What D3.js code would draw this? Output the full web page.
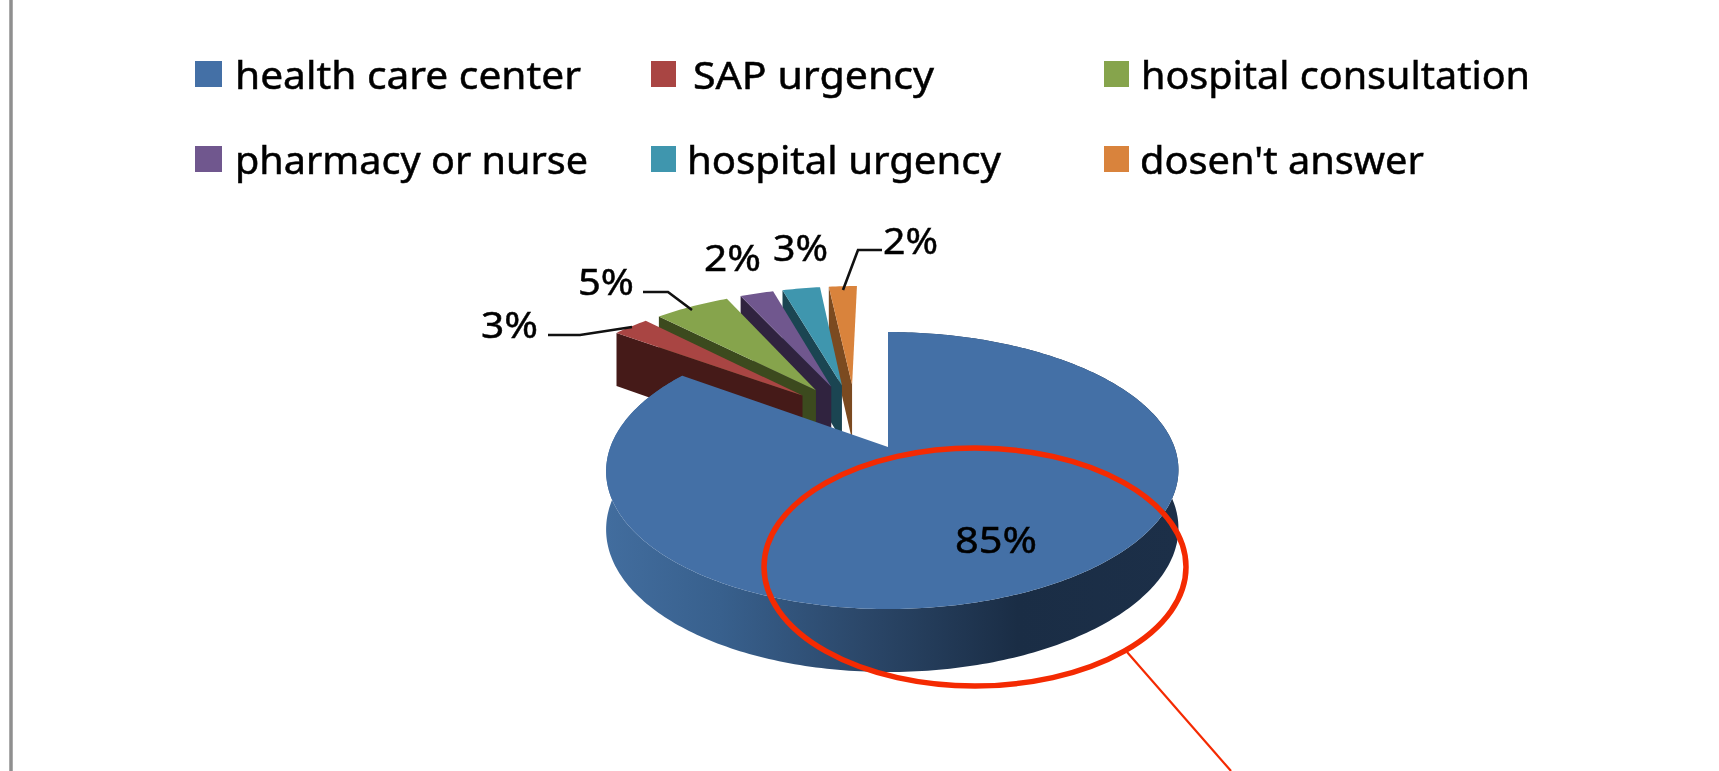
<!DOCTYPE html>
<html>
<head>
<meta charset="utf-8">
<script src="https://cdn.jsdelivr.net/npm/d3@7"></script>
<style>
  html, body { margin: 0; padding: 0; background: #fff; overflow: hidden; }
  svg { display: block; filter: blur(0.7px); }
  text { font-family: "Noto Sans", sans-serif; fill: #000; stroke: #000; stroke-width: 0.5px; }
</style>
</head>
<body>
<div id="chart"></div>
<script>
const categories = ['health care center', 'SAP urgency', 'hospital consultation', 'pharmacy or nurse', 'hospital urgency', "dosen't answer"]
const percents = [84.9, 2.6, 5.4, 2.4, 2.7, 2.0]
const topColors = ['#4470a6', '#a94543', '#86a44c', '#70578e', '#3f96ae', '#d9833c']
const wallColors = ['#27405f', '#451a18', '#3c4a1e', '#30233f', '#1b4552', '#7b4a20']

const width = 1719
const height = 771

let svg = d3.select('#chart').append('svg')
  .attr('width', width)
  .attr('height', height)

// grey frame on the left of the page
svg.append('line')
  .attr('x1', 11).attr('x2', 11)
  .attr('y1', 0).attr('y2', height)
  .attr('stroke', '#8f8f8f')
  .attr('stroke-width', 3.5)

// legend: 3 columns, 2 rows
let legendX = [195, 651, 1104]
let legendTextX = [235, 693, 1141, 235, 687, 1140]
let legendTextW = [346, 241, 389, 353, 314, 284]
let legendY = [61, 146]

let legend = svg.append('g').selectAll('g')
  .data(categories)
  .enter().append('g')

legend.append('rect')
  .attr('x', (d, i) => legendX[i % 3])
  .attr('y', (d, i) => legendY[Math.floor(i / 3)])
  .attr('width', (d, i) => i % 3 === 0 ? 27 : 25)
  .attr('height', 26)
  .attr('fill', (d, i) => topColors[i])

legend.append('text')
  .attr('x', (d, i) => legendTextX[i])
  .attr('y', (d, i) => legendY[Math.floor(i / 3)] + 28)
  .attr('font-size', 38)
  .attr('textLength', (d, i) => legendTextW[i])
  .attr('lengthAdjust', 'spacingAndGlyphs')
  .text(d => d)

// perspective pie. all slices pulled out from a common centre
const apex = [888, 447]   // where the big slice comes to a point
const sx = 282
const sy = 134.5
const persp = 0.17
const depth = 57.4
const explode = 0.266
const lean = 4.4          // the rim sits a little right of the point

let pie = d3.pie().sort(null).startAngle(0).endAngle(2 * Math.PI)
let slices = pie(percents)

function offset(s) {
  let m = (s.startAngle + s.endAngle) / 2
  return [explode * Math.sin(m), -explode * Math.cos(m)]
}

const mainOff = offset(slices[0])

function project(s, r, a, z) {
  let o = offset(s)
  let X = o[0] - mainOff[0] + r * Math.sin(a)
  let Y = o[1] - mainOff[1] - r * Math.cos(a)
  let w = 1 - persp * Y
  let bend = lean * r * Math.sin(a) * Math.sin(a)
  return [apex[0] + sx * X / w + bend, apex[1] + sy * Y / w + depth * z / Math.sqrt(w)]
}

function arcAngles(s) {
  let n = Math.max(6, Math.ceil((s.endAngle - s.startAngle) * 60))
  return d3.range(n + 1).map(k => s.startAngle + (s.endAngle - s.startAngle) * k / n)
}

let line = d3.line()

function topPath(s) {
  let pts = [project(s, 0, 0, 0)].concat(arcAngles(s).map(a => project(s, 1, a, 0)))
  return line(pts) + 'Z'
}

function outerWall(s) {
  let angles = arcAngles(s)
  let pts = angles.map(a => project(s, 1, a, 0))
    .concat(angles.slice().reverse().map(a => project(s, 1, a, 1)))
  return line(pts) + 'Z'
}

function startWall(s) {
  let a = s.startAngle
  return line([project(s, 0, a, 0), project(s, 1, a, 0), project(s, 1, a, 1), project(s, 0, a, 1)]) + 'Z'
}

let grad = svg.append('defs').append('linearGradient')
  .attr('id', 'mainWall')
  .attr('gradientUnits', 'userSpaceOnUse')
  .attr('x1', 606).attr('x2', 1178)
  .attr('y1', 0).attr('y2', 0)

grad.selectAll('stop')
  .data([[0, '#426d9e'], [0.2, '#38608d'], [0.45, '#2b4769'], [0.72, '#1a2d45'], [1, '#1c2f48']])
  .enter().append('stop')
  .attr('offset', d => d[0])
  .attr('stop-color', d => d[1])

// orange is painted first, red over it, the big slice last
// the small slices only show the wall on their lower edge, the rim faces away
let order = [5, 4, 3, 2, 1, 0]
let pieG = svg.append('g')

order.forEach(i => {
  let s = slices[i]
  let g = pieG.append('g').attr('class', 'slice')
  if (i > 0) {
    g.append('path').attr('d', startWall(s)).attr('fill', wallColors[i])
  } else {
    g.append('path').attr('d', outerWall(s)).attr('fill', 'url(#mainWall)')
  }
  g.append('path').attr('d', topPath(s)).attr('fill', topColors[i])
})

// leader lines
let leaders = [
  [[548, 335], [580, 335], [632, 327]],
  [[643, 292], [668, 292], [692, 310]],
  [[882, 250], [858, 250], [843, 290]]
]

svg.append('g').selectAll('path')
  .data(leaders)
  .enter().append('path')
  .attr('d', d => line(d))
  .attr('fill', 'none')
  .attr('stroke', '#111')
  .attr('stroke-width', 2.6)

// data labels
let labelX = [955, 481, 578, 704, 773, 883]
let labelY = [553, 338, 295, 271, 261, 254]
let labelW = [82, 57, 56, 57, 55, 55]

svg.append('g').selectAll('text')
  .data(percents)
  .enter().append('text')
  .attr('x', (d, i) => labelX[i])
  .attr('y', (d, i) => labelY[i])
  .attr('font-size', 37)
  .attr('textLength', (d, i) => labelW[i])
  .attr('lengthAdjust', 'spacingAndGlyphs')
  .text(d => d3.format('.0f')(d) + '%')

// red hand drawn circle and its callout line
svg.append('ellipse')
  .attr('cx', 975).attr('cy', 567)
  .attr('rx', 211).attr('ry', 119)
  .attr('fill', 'none')
  .attr('stroke', '#f42a02')
  .attr('stroke-width', 5.5)

svg.append('line')
  .attr('x1', 1127).attr('y1', 652)
  .attr('x2', 1231).attr('y2', 771)
  .attr('stroke', '#f42a02')
  .attr('stroke-width', 2.2)
</script>
</body>
</html>
